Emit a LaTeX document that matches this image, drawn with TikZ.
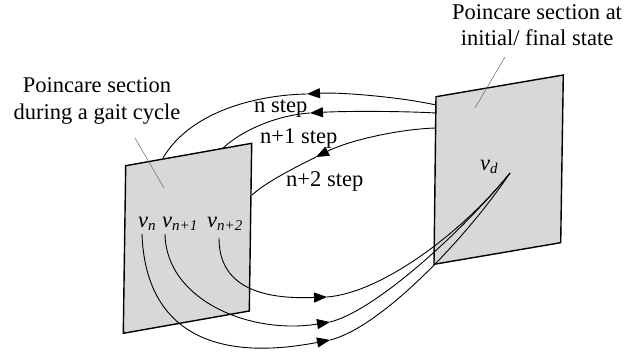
\documentclass[tikz,border=0pt]{standalone}
\usepackage{fontspec}
\setmainfont{Liberation Serif}
\usetikzlibrary{arrows.meta}
\definecolor{panelgray}{RGB}{216,216,216}
\newcommand{\vsub}[1]{\textit{v}\raisebox{-3pt}{\fontsize{15}{15}\selectfont\textit{#1}}}
\begin{document}
\begin{tikzpicture}[x=1pt,y=-1pt,
  panel/.style={draw=black,line width=1.4pt,fill=panelgray,line join=miter},
  lbl/.style={inner sep=0pt,font=\fontsize{22.5}{27}\selectfont},
  curve/.style={draw=black,line width=0.9pt},
  arr/.style={curve,-{Triangle[length=13pt,width=10pt]}},
  pointer/.style={draw=black!60,line width=0.5pt}]
\useasboundingbox (0,0) rectangle (641,358);
% panels
\draw[panel] (125.7,165.7) -- (251.7,143.3) -- (249.3,311) -- (123.3,333.3) -- cycle;
\draw[panel] (436,96.7) -- (563.3,75) -- (560.7,242.7) -- (434,264.3) -- cycle;
% titles
\node[lbl,anchor=base] (tl1) at (97,93) {Poincare section};
\node[lbl,anchor=base] (tl2) at (97,120) {during a gait cycle};
\node[lbl,anchor=base] (tr1) at (537,20) {Poincare section at};
\node[lbl,anchor=base] (tr2) at (537,46) {initial/ final state};
% pointer lines
\coordinate (pl1) at (135,138); \coordinate (pl2) at (164,188);
\coordinate (pr1) at (505,57);  \coordinate (pr2) at (475,108);
\draw[pointer] (pl1) -- (pl2);
\draw[pointer] (pr1) -- (pr2);
% step labels
\node[lbl,anchor=base west] (s0) at (254,113) {n step};
\node[lbl,anchor=base west] (s1) at (260,144) {n+1 step};
\node[lbl,anchor=base west] (s2) at (286,187) {n+2 step};
% v labels
\node[lbl,anchor=base west] (vn)  at (138,228) {\vsub{n}};
\node[lbl,anchor=base west] (vn1) at (162,228) {\vsub{n+1}};
\node[lbl,anchor=base west] (vn2) at (207,228) {\vsub{n+2}};
\node[lbl,anchor=base west] (vd)  at (480,171) {\vsub{d}};
% top curves (right panel -> left panel)
\coordinate (t1s) at (436,105); \coordinate (t1a) at (307,94);  \coordinate (t1e) at (163,158);
\coordinate (t2s) at (436,113); \coordinate (t2a) at (310,113); \coordinate (t2e) at (223,148);
\coordinate (t3s) at (436,128); \coordinate (t3a) at (316,157); \coordinate (t3e) at (252,195);
\draw[arr] (t1s) .. controls (400,97) and (340,92) .. (t1a);
\draw[curve] (t1a) .. controls (255,95) and (190,112) .. (t1e);
\draw[arr] (t2s) .. controls (400,111) and (345,111) .. (t2a);
\draw[curve] (t2a) .. controls (280,115) and (245,128) .. (t2e);
\draw[arr] (t3s) .. controls (400,129) and (350,140) .. (t3a);
\draw[curve] (t3a) .. controls (290,170) and (265,183) .. (t3e);
% bottom curves (left panel -> v_d)
\coordinate (vdp) at (510,173);
\coordinate (bCs) at (142,234); \coordinate (bCa) at (330,340);
\coordinate (bBs) at (165,234); \coordinate (bBa) at (330,322);
\coordinate (bAs) at (219,238); \coordinate (bAa) at (327,297);
\draw[arr] (bCs) .. controls (145,320) and (200,365) .. (bCa);
\draw[curve] (bCa) .. controls (380,328) and (465,240) .. (vdp);
\draw[arr] (bBs) .. controls (166,300) and (250,335) .. (bBa);
\draw[curve] (bBa) .. controls (375,311) and (462,232) .. (vdp);
\draw[arr] (bAs) .. controls (219,280) and (250,300) .. (bAa);
\draw[curve] (bAa) .. controls (380,293) and (460,235) .. (vdp);
\end{tikzpicture}
\end{document}
